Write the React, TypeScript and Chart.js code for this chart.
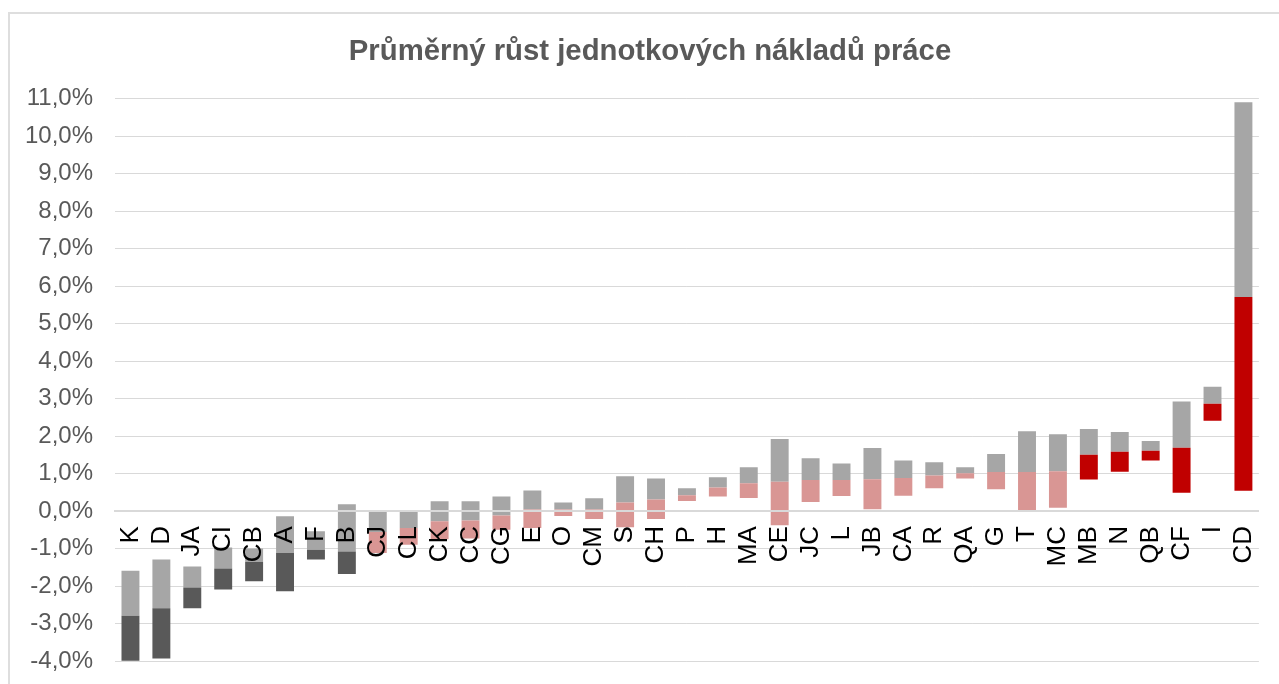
import React, { useEffect, useRef } from "react";
import { Chart, registerables } from "chart.js";

Chart.register(...registerables);

const categories = ["K","D","JA","CI","CB","A","F","B","CJ","CL","CK","CC","CG","E","O","CM","S","CH","P","H","MA","CE","JC","L","JB","CA","R","QA","G","T","MC","MB","N","QB","CF","I","CD"];

// bottom of the coloured segment
const lows = [-3.99,-3.93,-2.59,-2.09,-1.87,-2.14,-1.29,-1.68,-1.12,-0.90,-0.75,-0.73,-0.50,-0.45,-0.13,-0.21,-0.43,-0.21,0.27,0.39,0.35,-0.38,0.24,0.40,0.05,0.41,0.61,0.87,0.58,0.03,0.09,0.84,1.05,1.35,0.49,2.41,0.54];
// boundary between coloured and grey segment
const mids = [-2.79,-2.59,-2.04,-1.53,-1.36,-1.12,-1.03,-1.08,-0.56,-0.45,-0.27,-0.25,-0.12,0.04,0.04,0.04,0.23,0.31,0.42,0.63,0.74,0.78,0.83,0.83,0.85,0.88,0.95,1.01,1.04,1.04,1.06,1.50,1.58,1.61,1.69,2.86,5.71];
// top of the grey segment
const highs = [-1.59,-1.29,-1.48,-0.97,-1.0,-0.14,-0.54,0.18,-0.02,-0.02,0.26,0.26,0.39,0.55,0.23,0.34,0.93,0.87,0.61,0.90,1.17,1.92,1.41,1.27,1.68,1.35,1.30,1.17,1.52,2.13,2.05,2.19,2.11,1.87,2.92,3.32,10.91];
// group of each category: 0 = dark, 1 = light red, 2 = red
const groups = [0,0,0,0,0,0,0,0,1,1,1,1,1,1,1,1,1,1,1,1,1,1,1,1,1,1,1,1,1,1,1,2,2,2,2,2,2];

const yTicks = { min: -4, max: 11, step: 1 };
const title = "Průměrný růst jednotkových nákladů práce";

const groupColors = ["#595959", "#d99694", "#c00000"];
const greyColor = "#a6a6a6";

export default function App() {
  const ref = useRef<HTMLCanvasElement | null>(null);

  useEffect(() => {
    if (!ref.current) return;
    Chart.defaults.font.family = "'Liberation Sans', Arial, sans-serif";
    const chart = new Chart(ref.current, {
      type: "bar",
      data: {
        labels: categories,
        datasets: [
          {
            label: "base",
            data: categories.map((_, i) => [lows[i], mids[i]]) as any,
            backgroundColor: groups.map((g) => groupColors[g]),
            grouped: false,
            barPercentage: 0.58,
            categoryPercentage: 1,
          },
          {
            label: "grey",
            data: categories.map((_, i) => [mids[i], highs[i]]) as any,
            backgroundColor: greyColor,
            grouped: false,
            barPercentage: 0.58,
            categoryPercentage: 1,
          },
        ],
      },
      options: {
        animation: false,
        responsive: false,
        maintainAspectRatio: false,
        layout: { padding: { left: 0, right: 0, top: 0, bottom: 43 } },
        plugins: {
          legend: { display: false },
          tooltip: { enabled: false },
          title: {
            display: true,
            text: title,
            color: "#595959",
            font: { size: 29.3, weight: "bold", lineHeight: 1.2 },
            padding: { top: 20.3, bottom: 29.3 },
          },
        },
        scales: {
          x: {
            position: { y: 0 } as any,
            grid: { display: false, drawTicks: false },
            border: { display: true, color: "#d9d9d9", width: 2, z: 1 } as any,
            ticks: {
              autoSkip: false,
              minRotation: 90,
              maxRotation: 90,
              padding: 15,
              color: "#000000",
              font: { size: 26 },
              z: 1,
            } as any,
            afterFit: (scale: any) => {
              scale.height = 0;
            },
          },
          y: {
            min: yTicks.min,
            max: yTicks.max,
            grid: { color: "#d9d9d9", lineWidth: 1, drawTicks: false },
            border: { display: false },
            ticks: {
              stepSize: yTicks.step,
              padding: 22,
              color: "#595959",
              font: { size: 24 },
              callback: (v: any) => Number(v).toFixed(1).replace(".", ",") + "%",
            },
            afterFit: (scale: any) => {
              scale.width = 105;
            },
          },
          yRight: {
            position: "right",
            display: true,
            grid: { display: false, drawTicks: false },
            border: { display: false },
            ticks: { display: false },
            afterFit: (scale: any) => {
              scale.width = 28;
            },
          },
        },
      },
    });
    return () => chart.destroy();
  }, []);

  return (
    <div
      style={{
        position: "fixed",
        left: 8,
        top: 12,
        width: 1284,
        height: 694,
        border: "2px solid #dedede",
        boxSizing: "border-box",
        background: "#ffffff",
      }}
    >
      <canvas ref={ref} width={1280} height={690} style={{ display: "block" }} />
    </div>
  );
}
